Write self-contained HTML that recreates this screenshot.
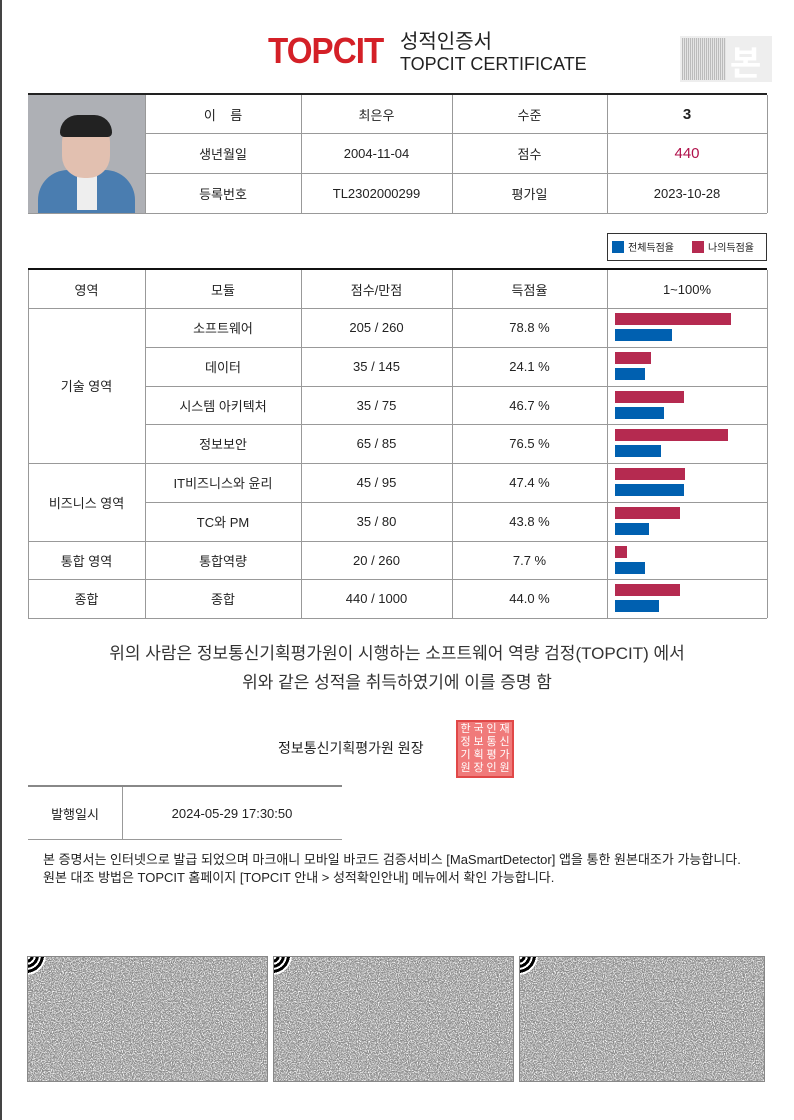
<!DOCTYPE html>
<html><head><meta charset="utf-8"><style>
*{margin:0;padding:0;box-sizing:border-box}
body{width:794px;height:1120px;background:#fff;position:relative;font-family:"Liberation Sans","Noto Sans CJK KR",sans-serif;color:#222;overflow:hidden}
.a{position:absolute}
.c{position:absolute;display:flex;align-items:center;justify-content:center;font-size:13px}
.hl{position:absolute;height:1px;background:#999}
.vl{position:absolute;width:1px;background:#999}
.bar{position:absolute;height:12px}
.r{background:#b52a50}.b{background:#0060b0}
.bc{position:absolute;top:956px;height:126px;border:1px solid #888;overflow:hidden;background:#fff}
.bc svg{opacity:0.45}
.cr{position:absolute;left:-22px;top:-22px;width:40px;height:40px;border-radius:50%;background:radial-gradient(circle,#fff 0 5px,#000 5px 8px,#fff 8px 10px,#000 10px 13px,#fff 13px 15px,#000 15px 18px,#fff 18px 20px)}
</style></head><body>
<svg width="0" height="0" style="position:absolute"><defs>
<filter id="nz" x="0" y="0" width="100%" height="100%"><feTurbulence type="fractalNoise" baseFrequency="0.9" numOctaves="2" seed="3"/><feColorMatrix type="matrix" values="0 0 0 0 0  0 0 0 0 0  0 0 0 0 0  0 0 0 -2.2 1.75"/><feComponentTransfer><feFuncA type="discrete" tableValues="0 0.35 0.7 1"/></feComponentTransfer></filter>
</defs></svg>
<div class="a" style="left:0;top:0;width:2px;height:1120px;background:#444"></div>
<div class="a" style="left:268px;top:30px;font-size:36px;font-weight:bold;color:#d42027;letter-spacing:-1px;transform:scaleX(0.92);transform-origin:left">TOPCIT</div>
<div class="a" style="left:400px;top:25px;font-size:20px">성적인증서</div>
<div class="a" style="left:400px;top:54px;font-size:18px">TOPCIT CERTIFICATE</div>
<div class="a" style="left:680px;top:36px;width:92px;height:46px;background:#eee"></div>
<div class="a" style="left:682px;top:38px;width:44px;height:42px;background:repeating-linear-gradient(90deg,#bbb 0 1px,#e4e4e4 1px 2px)"></div>
<div class="a" style="left:730px;top:36px;font-size:34px;color:#fff;font-weight:bold">본</div>

<div class="a" style="left:28px;top:93px;width:739px;height:2px;background:#222"></div>
<div class="a" style="left:28px;top:95px;width:117px;height:118px;background:#aeb0b5;overflow:hidden">
 <div class="a" style="left:10px;top:75px;width:97px;height:60px;background:#4a7db0;border-radius:30px 30px 0 0"></div>
 <div class="a" style="left:49px;top:75px;width:20px;height:40px;background:#eee"></div>
 <div class="a" style="left:34px;top:25px;width:48px;height:58px;background:#e2c0b0;border-radius:22px"></div>
 <div class="a" style="left:32px;top:20px;width:52px;height:22px;background:#222;border-radius:24px 24px 6px 6px"></div>
</div>
<div class="hl" style="left:145px;top:133px;width:622px"></div>
<div class="hl" style="left:145px;top:173px;width:622px"></div>
<div class="hl" style="left:28px;top:213px;width:739px"></div>
<div class="vl" style="left:145px;top:95px;height:118px"></div>
<div class="vl" style="left:301px;top:95px;height:118px"></div>
<div class="vl" style="left:452px;top:95px;height:118px"></div>
<div class="vl" style="left:607px;top:95px;height:118px"></div>
<div class="vl" style="left:767px;top:95px;height:118px"></div>
<div class="c" style="left:145px;top:95px;width:156px;height:38px">이&nbsp;&nbsp;&nbsp;&nbsp;름</div>
<div class="c" style="left:301px;top:95px;width:151px;height:38px">최은우</div>
<div class="c" style="left:452px;top:95px;width:155px;height:38px">수준</div>
<div class="c" style="left:607px;top:95px;width:160px;height:38px;font-size:15px;font-weight:bold">3</div>
<div class="c" style="left:145px;top:133px;width:156px;height:40px">생년월일</div>
<div class="c" style="left:301px;top:133px;width:151px;height:40px">2004-11-04</div>
<div class="c" style="left:452px;top:133px;width:155px;height:40px">점수</div>
<div class="c" style="left:607px;top:133px;width:160px;height:40px;font-size:15px;color:#b0104a">440</div>
<div class="c" style="left:145px;top:173px;width:156px;height:40px">등록번호</div>
<div class="c" style="left:301px;top:173px;width:151px;height:40px">TL2302000299</div>
<div class="c" style="left:452px;top:173px;width:155px;height:40px">평가일</div>
<div class="c" style="left:607px;top:173px;width:160px;height:40px">2023-10-28</div>

<div class="a" style="left:607px;top:233px;width:160px;height:28px;border:1px solid #333"></div>
<div class="a" style="left:612px;top:241px;width:12px;height:12px;background:#0060b0"></div>
<div class="a" style="left:628px;top:239px;font-size:10px">전체득점율</div>
<div class="a" style="left:692px;top:241px;width:12px;height:12px;background:#b52a50"></div>
<div class="a" style="left:708px;top:239px;font-size:10px">나의득점율</div>

<div class="a" style="left:28px;top:268px;width:739px;height:2px;background:#111"></div>
<div class="hl" style="left:28px;top:308px;width:739px"></div>
<div class="hl" style="left:145px;top:347px;width:622px"></div>
<div class="hl" style="left:145px;top:386px;width:622px"></div>
<div class="hl" style="left:145px;top:424px;width:622px"></div>
<div class="hl" style="left:28px;top:463px;width:739px"></div>
<div class="hl" style="left:145px;top:502px;width:622px"></div>
<div class="hl" style="left:28px;top:541px;width:739px"></div>
<div class="hl" style="left:28px;top:579px;width:739px"></div>
<div class="hl" style="left:28px;top:618px;width:739px"></div>
<div class="vl" style="left:28px;top:270px;height:348px"></div>
<div class="vl" style="left:145px;top:270px;height:348px"></div>
<div class="vl" style="left:301px;top:270px;height:348px"></div>
<div class="vl" style="left:452px;top:270px;height:348px"></div>
<div class="vl" style="left:607px;top:270px;height:348px"></div>
<div class="vl" style="left:767px;top:270px;height:348px"></div>
<div class="c" style="left:28px;top:270px;width:117px;height:38px">영역</div>
<div class="c" style="left:145px;top:270px;width:156px;height:38px">모듈</div>
<div class="c" style="left:301px;top:270px;width:151px;height:38px">점수/만점</div>
<div class="c" style="left:452px;top:270px;width:155px;height:38px">득점율</div>
<div class="c" style="left:607px;top:270px;width:160px;height:38px">1~100%</div>
<div class="c" style="left:28px;top:308px;width:117px;height:155px">기술 영역</div>
<div class="c" style="left:28px;top:463px;width:117px;height:78px">비즈니스 영역</div>
<div class="c" style="left:28px;top:541px;width:117px;height:38px">통합 영역</div>
<div class="c" style="left:28px;top:579px;width:117px;height:39px">종합</div>

<div class="c" style="left:145px;top:308px;width:156px;height:39px">소프트웨어</div>
<div class="c" style="left:301px;top:308px;width:151px;height:39px">205 / 260</div>
<div class="c" style="left:452px;top:308px;width:155px;height:39px">78.8 %</div>
<div class="c" style="left:145px;top:347px;width:156px;height:39px">데이터</div>
<div class="c" style="left:301px;top:347px;width:151px;height:39px">35 / 145</div>
<div class="c" style="left:452px;top:347px;width:155px;height:39px">24.1 %</div>
<div class="c" style="left:145px;top:386px;width:156px;height:38px">시스템 아키텍처</div>
<div class="c" style="left:301px;top:386px;width:151px;height:38px">35 / 75</div>
<div class="c" style="left:452px;top:386px;width:155px;height:38px">46.7 %</div>
<div class="c" style="left:145px;top:424px;width:156px;height:39px">정보보안</div>
<div class="c" style="left:301px;top:424px;width:151px;height:39px">65 / 85</div>
<div class="c" style="left:452px;top:424px;width:155px;height:39px">76.5 %</div>
<div class="c" style="left:145px;top:463px;width:156px;height:39px">IT비즈니스와 윤리</div>
<div class="c" style="left:301px;top:463px;width:151px;height:39px">45 / 95</div>
<div class="c" style="left:452px;top:463px;width:155px;height:39px">47.4 %</div>
<div class="c" style="left:145px;top:502px;width:156px;height:39px">TC와 PM</div>
<div class="c" style="left:301px;top:502px;width:151px;height:39px">35 / 80</div>
<div class="c" style="left:452px;top:502px;width:155px;height:39px">43.8 %</div>
<div class="c" style="left:145px;top:541px;width:156px;height:38px">통합역량</div>
<div class="c" style="left:301px;top:541px;width:151px;height:38px">20 / 260</div>
<div class="c" style="left:452px;top:541px;width:155px;height:38px">7.7 %</div>
<div class="c" style="left:145px;top:579px;width:156px;height:39px">종합</div>
<div class="c" style="left:301px;top:579px;width:151px;height:39px">440 / 1000</div>
<div class="c" style="left:452px;top:579px;width:155px;height:39px">44.0 %</div>

<div class="bar r" style="left:615px;top:313px;width:116px"></div><div class="bar b" style="left:615px;top:329px;width:57px"></div>
<div class="bar r" style="left:615px;top:352px;width:36px"></div><div class="bar b" style="left:615px;top:368px;width:30px"></div>
<div class="bar r" style="left:615px;top:391px;width:69px"></div><div class="bar b" style="left:615px;top:407px;width:49px"></div>
<div class="bar r" style="left:615px;top:429px;width:113px"></div><div class="bar b" style="left:615px;top:445px;width:46px"></div>
<div class="bar r" style="left:615px;top:468px;width:70px"></div><div class="bar b" style="left:615px;top:484px;width:69px"></div>
<div class="bar r" style="left:615px;top:507px;width:65px"></div><div class="bar b" style="left:615px;top:523px;width:34px"></div>
<div class="bar r" style="left:615px;top:546px;width:12px"></div><div class="bar b" style="left:615px;top:562px;width:30px"></div>
<div class="bar r" style="left:615px;top:584px;width:65px"></div><div class="bar b" style="left:615px;top:600px;width:44px"></div>

<div class="a" style="left:0;top:639px;width:794px;text-align:center;font-size:17px;color:#333">위의 사람은 정보통신기획평가원이 시행하는 소프트웨어 역량 검정(TOPCIT) 에서</div>
<div class="a" style="left:0;top:668px;width:794px;text-align:center;font-size:17px;color:#333">위와 같은 성적을 취득하였기에 이를 증명 함</div>
<div class="a" style="left:278px;top:738px;font-size:14px">정보통신기획평가원 원장</div>
<div class="a" style="left:456px;top:720px;width:58px;height:58px;background:#f07a7a;border:2px solid #e04848;display:grid;grid-template-columns:repeat(4,1fr);font-size:11px;line-height:13px;color:#fff;overflow:hidden;text-align:center;padding:1px">
<span>한</span><span>국</span><span>인</span><span>재</span><span>정</span><span>보</span><span>통</span><span>신</span><span>기</span><span>획</span><span>평</span><span>가</span><span>원</span><span>장</span><span>인</span><span>원</span></div>

<div class="a" style="left:28px;top:785px;width:314px;height:2px;background:#888"></div>
<div class="hl" style="left:28px;top:839px;width:314px"></div>
<div class="vl" style="left:122px;top:787px;height:52px"></div>
<div class="c" style="left:28px;top:787px;width:94px;height:52px">발행일시</div>
<div class="c" style="left:122px;top:787px;width:220px;height:52px">2024-05-29 17:30:50</div>
<div class="a" style="left:43px;top:851px;font-size:13px;line-height:18px;white-space:nowrap;color:#222">본 증명서는 인터넷으로 발급 되었으며 마크애니 모바일 바코드 검증서비스 [MaSmartDetector] 앱을 통한 원본대조가 가능합니다.<br>원본 대조 방법은 TOPCIT 홈페이지 [TOPCIT 안내 &gt; 성적확인안내] 메뉴에서 확인 가능합니다.</div>

<div class="bc" style="left:27px;width:241px"><svg width="246" height="126" style="position:absolute;left:0;top:0"><rect width="246" height="126" filter="url(#nz)"/></svg><div class="cr"></div></div>
<div class="bc" style="left:273px;width:241px"><svg width="246" height="126" style="position:absolute;left:0;top:0"><rect width="246" height="126" filter="url(#nz)"/></svg><div class="cr"></div></div>
<div class="bc" style="left:519px;width:246px"><svg width="246" height="126" style="position:absolute;left:0;top:0"><rect width="246" height="126" filter="url(#nz)"/></svg><div class="cr"></div></div>
</body></html>
